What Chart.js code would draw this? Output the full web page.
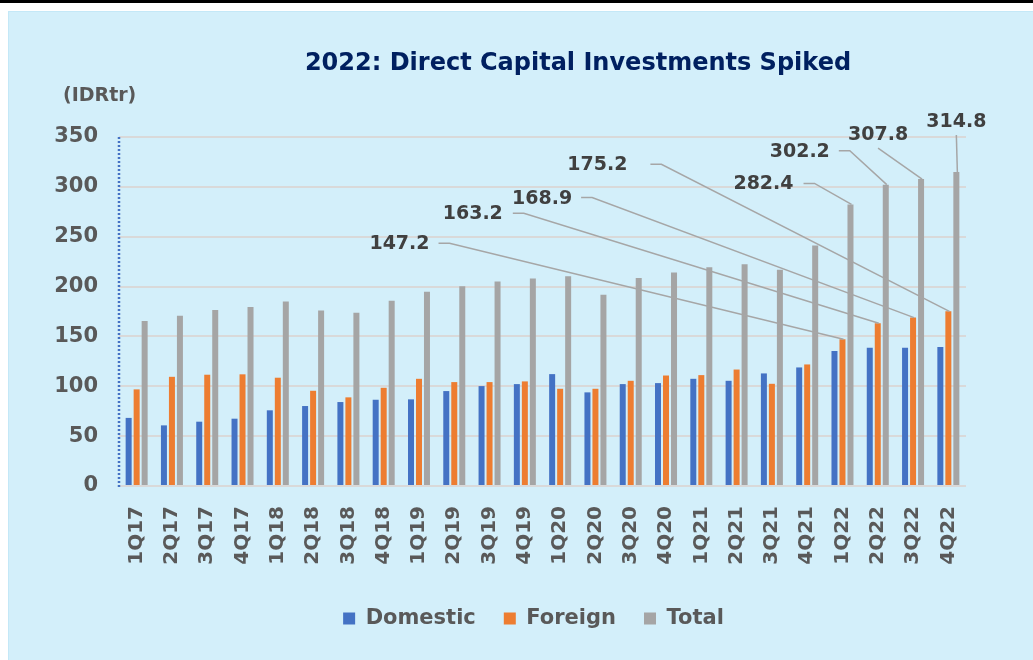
<!DOCTYPE html>
<html>
<head>
<meta charset="utf-8">
<script src="https://cdn.jsdelivr.net/npm/chart.js@4/dist/chart.umd.min.js"></script>
<style>
  html, body { margin: 0; padding: 0; background: #fff; }
  body { width: 1033px; height: 660px; position: relative; overflow: hidden; }
  .topline { position: absolute; left: 0; top: 0; width: 1033px; height: 3px; background: #000; }
  .panel { position: absolute; left: 8px; top: 11px; width: 1025px; height: 649px; background: #d3effa; border-top: 1px solid #c4e8f7; border-left: 1px solid #c4e8f7; box-sizing: border-box; }
  #chart { position: absolute; left: 0; top: 0; }
</style>
</head>
<body>
<div class="topline"></div>
<div class="panel"><canvas id="chart" width="1024" height="648"></canvas></div>
<script>
const quarters = [
  "1Q17", "2Q17", "3Q17", "4Q17", "1Q18", "2Q18", "3Q18", "4Q18",
  "1Q19", "2Q19", "3Q19", "4Q19", "1Q20", "2Q20", "3Q20", "4Q20",
  "1Q21", "2Q21", "3Q21", "4Q21", "1Q22", "2Q22", "3Q22", "4Q22",
];
const domestic = [68.3, 60.8, 64.5, 67.5, 75.9, 80.2, 84.2, 86.5, 86.9, 95.2, 100.2, 102.2,
  112.2, 93.9, 102.2, 103.2, 107.5, 105.5, 112.9, 118.9, 135.3, 138.6, 138.6, 139.3];
const foreign = [96.9, 109.5, 111.6, 112.0, 108.6, 95.5, 88.9, 98.5, 107.5, 104.2, 104.2, 104.9,
  97.5, 97.5, 105.5, 110.8, 111.2, 116.8, 102.5, 121.9, 147.2, 163.2, 168.9, 175.2];
const total = [165.4, 170.7, 176.4, 179.4, 185.1, 176.1, 173.7, 185.7, 194.7, 200.4, 205.1, 208.0,
  210.4, 191.7, 208.7, 214.1, 219.4, 222.4, 216.8, 241.2, 282.4, 302.2, 307.8, 314.8];
const yTicks = [0, 50, 100, 150, 200, 250, 300, 350];

const FONT = "'DejaVu Sans', Verdana, sans-serif";
const TICK_COLOR = "#595959";

// callout placement, relative to the top of the bar it points at
const callouts = [
  { ds: 1, i: 20, dx: -443, dy: -96, gap: 9 },
  { ds: 1, i: 21, dx: -405, dy: -110, gap: 10 },
  { ds: 1, i: 22, dx: -371, dy: -120, gap: 9 },
  { ds: 1, i: 23, dx: -351, dy: -147, gap: 23 },
  { ds: 2, i: 20, dx: -87, dy: -21, gap: 10 },
  { ds: 2, i: 21, dx: -86, dy: -34, gap: 9 },
  { ds: 2, i: 22, dx: -43, dy: -45, below: true },
  { ds: 2, i: 23, dx: 0, dy: -51, below: true },
];

const decorPlugin = {
  id: "decor",
  afterLayout(chart) {
    // legend sits a bit right of the canvas centre in the original
    if (chart.legend) {
      chart.legend.left += 46;
      chart.legend.right += 46;
    }
  },
  afterDraw(chart) {
    const ctx = chart.ctx;
    const area = chart.chartArea;
    ctx.save();
    // dotted value axis
    ctx.strokeStyle = "#4472c4";
    ctx.lineWidth = 2.5;
    ctx.setLineDash([2, 2]);
    ctx.beginPath();
    ctx.moveTo(area.left, area.top);
    ctx.lineTo(area.left, area.bottom + 2);
    ctx.stroke();
    ctx.setLineDash([]);

    // title
    ctx.fillStyle = "#002060";
    ctx.font = `bold 24px ${FONT}`;
    ctx.textAlign = "center";
    ctx.textBaseline = "middle";
    ctx.fillText("2022: Direct Capital Investments Spiked", 569, 52);
    // unit label
    ctx.fillStyle = TICK_COLOR;
    ctx.font = `bold 19px ${FONT}`;
    ctx.textAlign = "left";
    ctx.fillText("(IDRtr)", 54, 84);

    // callouts
    ctx.font = `bold 19px ${FONT}`;
    ctx.strokeStyle = "#a6a6a6";
    ctx.lineWidth = 1.5;
    callouts.forEach((c) => {
      const el = chart.getDatasetMeta(c.ds).data[c.i];
      const value = chart.data.datasets[c.ds].data[c.i];
      const text = value.toFixed(1);
      const tx = el.x + c.dx;
      const ty = el.y + c.dy;
      ctx.beginPath();
      if (c.below) {
        ctx.moveTo(tx, ty + 14);
      } else {
        const w = ctx.measureText(text).width;
        const sx = tx + w / 2 + c.gap;
        ctx.moveTo(sx, ty);
        ctx.lineTo(sx + 11, ty);
      }
      ctx.lineTo(el.x + 1, el.y);
      ctx.stroke();
      ctx.fillStyle = "#404040";
      ctx.textAlign = "center";
      ctx.textBaseline = "middle";
      ctx.fillText(text, tx, ty + 1);
    });
    ctx.restore();
  },
};

new Chart(document.getElementById("chart"), {
  type: "bar",
  data: {
    labels: quarters,
    datasets: [
      { label: "Domestic", data: domestic, backgroundColor: "#4472c4" },
      { label: "Foreign", data: foreign, backgroundColor: "#ed7d31" },
      { label: "Total", data: total, backgroundColor: "#a5a5a5" },
    ],
  },
  options: {
    responsive: false,
    animation: false,
    datasets: {
      bar: { categoryPercentage: 0.68, barPercentage: 0.75 },
    },
    layout: { padding: { top: 125, right: 67, bottom: 21, left: 0 } },
    plugins: {
      title: { display: false },
      tooltip: { enabled: false },
      legend: {
        position: "bottom",
        labels: {
          boxWidth: 12,
          boxHeight: 12,
          padding: 28,
          color: TICK_COLOR,
          font: { family: FONT, size: 21, weight: "bold" },
        },
      },
    },
    scales: {
      x: {
        grid: { display: false },
        border: { display: false },
        ticks: {
          minRotation: 90,
          maxRotation: 90,
          padding: 12,
          color: TICK_COLOR,
          font: { family: FONT, size: 20, weight: "bold" },
        },
        afterFit: (scale) => { scale.height = 94; },
      },
      y: {
        min: 0,
        max: 350,
        afterBuildTicks: (scale) => { scale.ticks = yTicks.map((v) => ({ value: v })); },
        grid: { color: "#d9d9d9", lineWidth: 2, drawTicks: false },
        border: { display: false },
        ticks: {
          padding: 21,
          color: TICK_COLOR,
          font: { family: FONT, size: 21, weight: "bold" },
        },
        afterFit: (scale) => { scale.width = 110; },
      },
    },
  },
  plugins: [decorPlugin],
});
</script>
</body>
</html>
